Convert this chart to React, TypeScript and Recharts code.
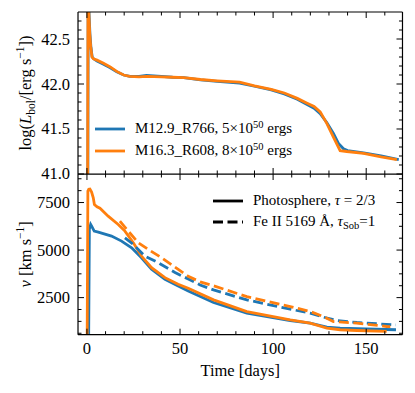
import React from 'react';
import { LineChart, Line, XAxis, YAxis, Legend, Label } from 'recharts';

const BLUE = '#1f77b4';
const ORANGE = '#ff7f0e';
const FONT = '"Liberation Serif", "Times New Roman", serif';

// axis ticks (minor + labelled majors)
const timeTicks = [0, 10, 20, 30, 40, 50, 60, 70, 80, 90, 100, 110, 120, 130, 140, 150, 160];
const timeLabels = [0, 50, 100, 150];
const lumTicks = [41.0, 41.1, 41.2, 41.3, 41.4, 41.5, 41.6, 41.7, 41.8, 41.9, 42.0, 42.1, 42.2, 42.3, 42.4, 42.5, 42.6, 42.7];
const lumLabels = [41.0, 41.5, 42.0, 42.5];
const velTicks = [625, 1250, 1875, 2500, 3125, 3750, 4375, 5000, 5625, 6250, 6875, 7500, 8125, 8750];
const velLabels = [2500, 5000, 7500];

// top panel: log L_bol
const lumTimeM12 = [0.4, 0.7, 1.1, 1.6, 2.1, 2.8, 3.6, 5.4, 8.9, 12.5, 16, 19.7, 23, 28, 32, 36, 40, 46, 52, 61, 70, 82, 90, 99, 106, 113, 118, 122, 125.3, 128.9, 132.4, 135.1, 137.8, 140, 148.6, 158, 167.5];
const lumM12 = [40.0, 43.4, 42.8, 42.56, 42.42, 42.3, 42.28, 42.255, 42.22, 42.18, 42.135, 42.1, 42.085, 42.085, 42.095, 42.09, 42.085, 42.075, 42.07, 42.045, 42.03, 42.01, 41.975, 41.935, 41.89, 41.83, 41.775, 41.73, 41.67, 41.57, 41.45, 41.34, 41.28, 41.26, 41.235, 41.2, 41.16];
const lumTimeM16 = [0.3, 0.6, 1.0, 1.5, 2.0, 2.7, 3.5, 5.4, 8.9, 12.5, 16, 19.7, 23, 28, 32, 36, 40, 46, 52, 61, 70, 82, 90, 99, 106, 113, 118, 122, 125.3, 128.9, 132.4, 136, 139.6, 148.6, 158, 166.5];
const lumM16 = [40.0, 43.4, 42.8, 42.56, 42.42, 42.3, 42.28, 42.265, 42.23, 42.19, 42.14, 42.1, 42.085, 42.08, 42.085, 42.083, 42.08, 42.075, 42.07, 42.05, 42.035, 42.02, 41.98, 41.94, 41.9, 41.84, 41.79, 41.75, 41.69, 41.56, 41.41, 41.26, 41.25, 41.23, 41.19, 41.16];

// bottom panel: photospheric velocity (tau = 2/3)
const photTimeM12 = [0.9, 1.3, 2.0, 2.6, 3.9, 6.1, 13.2, 18.6, 24, 29.3, 34.7, 41.9, 49, 54.4, 68, 85.9, 109.2, 119.9, 128.9, 136, 150, 166];
const photVelM12 = [0, 6100, 6350, 6250, 6000, 5944, 5734, 5472, 5121, 4597, 3989, 3465, 3114, 2852, 2240, 1680, 1296, 1160, 950, 898, 850, 810];
const photTimeM16 = [0.1, 0.5, 1.0, 1.6, 2.5, 3.4, 4.0, 5.4, 7, 11.4, 16.8, 20.4, 24.9, 29.3, 34.7, 41.9, 49, 54.4, 68, 85.9, 109.2, 119.9, 128.9, 136, 145, 161];
const photVelM16 = [0, 8100, 8200, 8213, 8050, 7750, 7400, 7280, 7200, 6782, 6347, 5996, 5383, 4686, 4073, 3549, 3203, 2994, 2380, 1767, 1333, 1160, 898, 810, 770, 720];

// bottom panel: Fe II 5169 velocity (tau_Sob = 1)
const feTimeM12 = [20.4, 24.9, 31.1, 38.3, 47.3, 54.4, 60.8, 68, 85.9, 109.2, 119.9, 127, 134.3, 145, 164.7, 166];
const feVelM12 = [5645, 5299, 4686, 4335, 3820, 3480, 3165, 2904, 2380, 1893, 1683, 1474, 1296, 1191, 1070, 1065];
const feTimeM16 = [17.7, 22.2, 27.6, 32.9, 40.1, 47.3, 54.4, 60.8, 68, 85.9, 109.2, 119.9, 127, 132.4, 145, 161, 163];
const feVelM16 = [6520, 5996, 5383, 5037, 4597, 4100, 3620, 3330, 3120, 2554, 2030, 1767, 1505, 1243, 1160, 981, 970];

const zip = (t: number[], v: number[]) => t.map((x, i) => ({ t: x, v: v[i] }));

const isMajor = (majors: number[], v: number) => majors.some(m => Math.abs(m - v) < 1e-6);

// axes have to be > 0 thick or recharts skips them
const THIN = 0.01;

// inward ticks on every side, labels only on bottom / left
function makeTick(side: string, majors: number[], fmt?: (v: number) => string) {
    return (props: any) => {
        const { x, y, payload } = props;
        const v = payload.value;
        const major = isMajor(majors, v);
        const len = major ? 6 : 3.5;
        let line = null;
        let label = null;
        if (side === 'bottom') {
            line = <line x1={x} x2={x} y1={y} y2={y - len} stroke="#000" strokeWidth={1} />;
            if (fmt && major) label = <text x={x} y={y + 19} textAnchor="middle" fontFamily={FONT} fontSize={16.5} fill="#000">{fmt(v)}</text>;
        } else if (side === 'top') {
            line = <line x1={x} x2={x} y1={y} y2={y + len} stroke="#000" strokeWidth={1} />;
        } else if (side === 'left') {
            line = <line x1={x} x2={x + len} y1={y} y2={y} stroke="#000" strokeWidth={1} />;
            if (fmt && major) label = <text x={x - 8} y={y + 5.5} textAnchor="end" fontFamily={FONT} fontSize={16.5} fill="#000">{fmt(v)}</text>;
        } else {
            line = <line x1={x} x2={x - len} y1={y} y2={y} stroke="#000" strokeWidth={1} />;
        }
        return <g>{line}{label}</g>;
    };
}

const frame = { stroke: '#000', strokeWidth: 1.2 };

function LumTitle({ viewBox }: any) {
    const cx = viewBox.x + viewBox.width - 47;
    const cy = viewBox.y + viewBox.height / 2;
    return (
        <text x={cx} y={cy} transform={`rotate(-90 ${cx} ${cy})`} textAnchor="middle" fontFamily={FONT} fontSize={16.5} fill="#000">
            log(<tspan fontStyle="italic">L</tspan><tspan fontSize={11.5} dy={4}>bol</tspan><tspan dy={-4}>/[erg s</tspan><tspan fontSize={11.5} dy={-7}>−1</tspan><tspan dy={7}>])</tspan>
        </text>
    );
}

function VelTitle({ viewBox }: any) {
    const cx = viewBox.x + viewBox.width - 47;
    const cy = viewBox.y + viewBox.height / 2;
    return (
        <text x={cx} y={cy} transform={`rotate(-90 ${cx} ${cy})`} textAnchor="middle" fontFamily={FONT} fontSize={16.5} fill="#000">
            <tspan fontStyle="italic">v</tspan> [km s<tspan fontSize={11.5} dy={-7}>−1</tspan><tspan dy={7}>]</tspan>
        </text>
    );
}

function TimeTitle({ viewBox }: any) {
    return (
        <text x={viewBox.x + viewBox.width / 2} y={viewBox.y + 41.5} textAnchor="middle" fontFamily={FONT} fontSize={16.5} fill="#000">
            Time [days]
        </text>
    );
}

const legendText: React.CSSProperties = { fontFamily: FONT, fontSize: 15, color: '#000', whiteSpace: 'nowrap', lineHeight: '15px' };
const supStyle: React.CSSProperties = { fontSize: '70%', position: 'relative', top: '-0.45em' };
const subStyle: React.CSSProperties = { fontSize: '70%', position: 'relative', top: '0.3em' };

function LegendRow({ color, dash, rowH, children }: any) {
    return (
        <div style={{ display: 'flex', alignItems: 'center', height: rowH }}>
            <svg width={30} height={6} style={{ marginRight: 10 }}>
                <line x1={0} x2={30} y1={3} y2={3} stroke={color} strokeWidth={2.8} strokeDasharray={dash} />
            </svg>
            <span style={legendText}>{children}</span>
        </div>
    );
}

function ModelLegend() {
    return (
        <div>
            <LegendRow color={BLUE} rowH={22}>M12.9_R766, 5×10<span style={supStyle}>50</span> ergs</LegendRow>
            <LegendRow color={ORANGE} rowH={22}>M16.3_R608, 8×10<span style={supStyle}>50</span> ergs</LegendRow>
        </div>
    );
}

function TracerLegend() {
    return (
        <div>
            <LegendRow color="#000" rowH={21}>Photosphere, <i>τ</i> = 2/3</LegendRow>
            <LegendRow color="#000" dash="10 4.5" rowH={21}>Fe II 5169 Å, <i>τ</i><span style={subStyle}>Sob</span>=1</LegendRow>
        </div>
    );
}

const xDomain: [number, number] = [-4.8, 169.5];

function frameAxes(yDomain: [number, number], yTicks: number[], yMajors: number[], yFmt: (v: number) => string, xLabels: boolean, yTitle: any, xTitle: boolean) {
    return [
        <XAxis key="xb" xAxisId="b" orientation="bottom" type="number" dataKey="t" domain={xDomain} allowDataOverflow ticks={timeTicks} interval={0}
            height={THIN} tickLine={false} tickSize={0} tickMargin={0} axisLine={frame}
            tick={makeTick('bottom', timeLabels, xLabels ? (v) => String(v) : undefined)}>
            {xTitle && <Label content={(p: any) => <TimeTitle viewBox={p.viewBox} />} />}
        </XAxis>,
        <XAxis key="xt" xAxisId="t" orientation="top" type="number" dataKey="t" domain={xDomain} allowDataOverflow ticks={timeTicks} interval={0}
            height={THIN} tickLine={false} tickSize={0} tickMargin={0} axisLine={frame} tick={makeTick('top', timeLabels)} />,
        <YAxis key="yl" yAxisId="l" orientation="left" type="number" domain={yDomain} allowDataOverflow ticks={yTicks} interval={0}
            width={THIN} tickLine={false} tickSize={0} tickMargin={0} axisLine={frame} tick={makeTick('left', yMajors, yFmt)}>
            <Label content={(p: any) => React.createElement(yTitle, { viewBox: p.viewBox })} />
        </YAxis>,
        <YAxis key="yr" yAxisId="r" orientation="right" type="number" domain={yDomain} allowDataOverflow ticks={yTicks} interval={0}
            width={THIN} tickLine={false} tickSize={0} tickMargin={0} axisLine={frame} tick={makeTick('right', yMajors)} />,
    ];
}

export default function App() {
    const lineProps = { xAxisId: 'b', yAxisId: 'l', dataKey: 'v', dot: false, activeDot: false, isAnimationActive: false, strokeWidth: 2.8, type: 'linear' as const };
    return (
        <div style={{ position: 'absolute', left: 0, top: 0, width: 415, height: 393, background: '#fff' }}>
            <div style={{ position: 'absolute', left: 0, top: 0 }}>
                <LineChart width={415} height={190} margin={{ top: 12, right: 12.5, bottom: 16, left: 78 }}>
                    {frameAxes([41.0, 42.8], lumTicks, lumLabels, (v) => v.toFixed(1), false, LumTitle, false)}
                    <Line {...lineProps} data={zip(lumTimeM12, lumM12)} stroke={BLUE} name="M12.9_R766" />
                    <Line {...lineProps} data={zip(lumTimeM16, lumM16)} stroke={ORANGE} name="M16.3_R608" />
                    <Legend layout="vertical" align="center" verticalAlign="middle"
                        wrapperStyle={{ position: 'absolute', left: 95, top: 118, width: 'auto', height: 'auto' }}
                        content={() => <ModelLegend />} />
                </LineChart>
            </div>
            <div style={{ position: 'absolute', left: 0, top: 174 }}>
                <LineChart width={415} height={219} margin={{ top: 0, right: 12.5, bottom: 58.3, left: 78 }}>
                    {frameAxes([550, 9000], velTicks, velLabels, (v) => String(v), true, VelTitle, true)}
                    <Line {...lineProps} data={zip(photTimeM12, photVelM12)} stroke={BLUE} />
                    <Line {...lineProps} data={zip(photTimeM16, photVelM16)} stroke={ORANGE} />
                    <Line {...lineProps} data={zip(feTimeM12, feVelM12)} stroke={BLUE} strokeDasharray="10 4.5" />
                    <Line {...lineProps} data={zip(feTimeM16, feVelM16)} stroke={ORANGE} strokeDasharray="10 4.5" />
                    <Legend layout="vertical" align="center" verticalAlign="middle"
                        wrapperStyle={{ position: 'absolute', left: 213, top: 16, width: 'auto', height: 'auto' }}
                        content={() => <TracerLegend />} />
                </LineChart>
            </div>
        </div>
    );
}
